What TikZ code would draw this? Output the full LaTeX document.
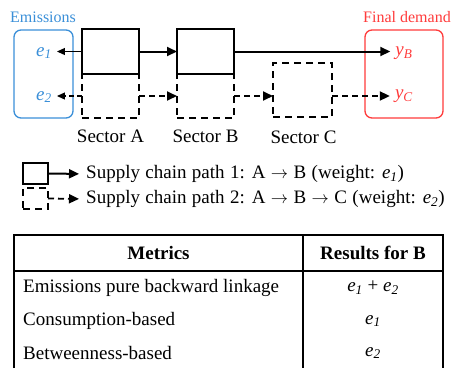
\documentclass[tikz,border=0pt]{standalone}
\usepackage{fontspec}
\setmainfont{Liberation Serif}
\usetikzlibrary{arrows.meta}
\definecolor{emblue}{RGB}{58,143,216}
\definecolor{fdred}{RGB}{255,59,59}
\newcommand\vsub[2]{\textit{#1}\textsubscript{\textit{#2}}}
\newcommand\legspacing{\spaceskip=5.4pt\relax}
\begin{document}
\begin{tikzpicture}[x=1pt,y=-1pt,
  font=\fontsize{19}{21}\selectfont,
  solidbox/.style={draw, line width=2.5pt, minimum width=57pt, minimum height=45pt, inner sep=0pt, outer sep=0pt},
  dashbox/.style={draw, line width=2pt, dash pattern=on 7pt off 5pt, minimum width=57pt, minimum height=44pt, inner sep=0pt, outer sep=0pt},
  solidarr/.style={line width=2pt, -{Triangle[length=10pt,width=9pt]}},
  thinarr/.style={line width=1.2pt, -{Triangle[length=8pt,width=7pt]}},
  dasharr/.style={line width=1.8pt, dash pattern=on 6pt off 4pt, -{Triangle[length=10pt,width=9pt]}},
  groupbox/.style={draw, line width=1.3pt, rounded corners=7pt, inner sep=0pt, outer sep=0pt},
  grouplabel/.style={font=\fontsize{16}{18}\selectfont},
  legtext/.style={anchor=west, inner sep=0pt},
  tabline/.style={line width=1.2pt}
]
\useasboundingbox (0,0) rectangle (452,368);

% group boxes
\node[groupbox, draw=emblue, minimum width=59pt, minimum height=88pt] (emis) at (43.5,74) {};
\node[grouplabel, text=emblue] (emislab) at (43,17) {Emissions};
\node[groupbox, draw=fdred, minimum width=78pt, minimum height=88pt] (fd) at (404,74) {};
\node[grouplabel, text=fdred] (fdlab) at (407,17) {Final demand};

% sectors
\node[dashbox] (Ad) at (110.5,96) {};
\node[dashbox] (Bd) at (205.5,96) {};
\node[dashbox, minimum width=59pt, minimum height=54pt] (Cd) at (302.5,90) {};
\node[solidbox] (A) at (110.5,51.5) {};
\node[solidbox] (B) at (205.5,51.5) {};

\node (SA) at (110.5,136) {Sector A};
\node (SB) at (205.5,136) {Sector B};
\node (SC) at (303.5,137) {Sector C};

% labels
\node[text=emblue, inner sep=0pt] (e1) at (44,53) {\vsub{e}{1}};
\node[text=emblue, inner sep=0pt] (e2) at (44,97) {\vsub{e}{2}};
\node[text=fdred, inner sep=0pt] (yB) at (404,53) {\vsub{y}{B}};
\node[text=fdred, inner sep=0pt] (yC) at (404,96) {\vsub{y}{C}};

% connectors
\draw[thinarr, shorten >=5pt] (A.west) -- (A.west -| e1.east);
\draw[thinarr, dash pattern=on 5pt off 3pt, shorten >=5pt] (Ad.west) -- (Ad.west -| e2.east);
\draw[solidarr] (A.east) -- (B.west);
\draw[solidarr, shorten >=5pt] (B.east) -- (B.east -| yB.west);
\draw[dasharr] (Ad.east) -- (Bd.west);
\draw[dasharr] (Bd.east) -- (Bd.east -| Cd.west);
\draw[dasharr, shorten >=5pt] (Cd.east |- yC.west) -- (yC.west);

% legend
\node[solidbox, minimum width=25pt, minimum height=21pt] (L1) at (35.5,173.5) {};
\node[legtext] (L1t) at (86,174) {\legspacing Supply chain path 1: A $\rightarrow$ B (weight: \vsub{e}{1})};
\draw[solidarr, shorten >=7pt] (L1.east) -- (L1t.west);
\node[dashbox, minimum width=25pt, minimum height=21pt] (L2) at (35.5,198.5) {};
\node[legtext] (L2t) at (86,199) {\legspacing Supply chain path 2: A $\rightarrow$ B $\rightarrow$ C (weight: \vsub{e}{2})};
\draw[dasharr, shorten >=7pt] (L2.east) -- (L2t.west);

% table
\draw[tabline] (14,368) -- (14,235) -- (443,235) -- (443,368);
\draw[tabline] (14,271) -- (443,271);
\draw[tabline] (303,235) -- (303,368);
\node[font=\fontsize{19}{21}\selectfont\bfseries] (h1) at (158.5,253) {Metrics};
\node[font=\fontsize{19}{21}\selectfont\bfseries] (h2) at (373,253) {Results for B};
\node[anchor=west, inner sep=0pt] (r1) at (23,288) {Emissions pure backward linkage};
\node[anchor=west, inner sep=0pt] (r2) at (23,321) {Consumption-based};
\node[anchor=west, inner sep=0pt] (r3) at (23,353) {Betweenness-based};
\node (v1) at (373,288) {\vsub{e}{1} + \vsub{e}{2}};
\node (v2) at (373,321) {\vsub{e}{1}};
\node (v3) at (373,353) {\vsub{e}{2}};
\end{tikzpicture}
\end{document}
